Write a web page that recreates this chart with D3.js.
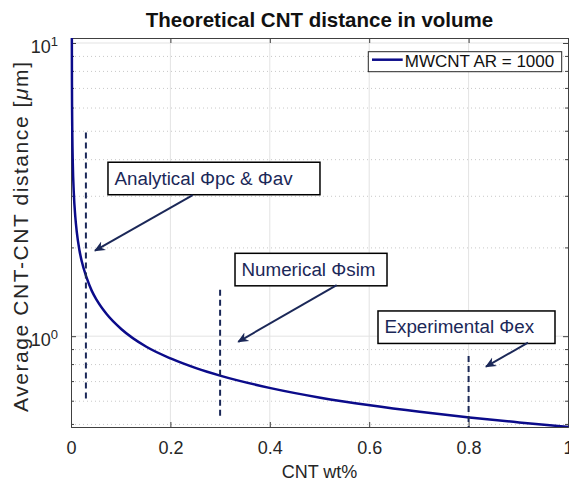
<!DOCTYPE html>
<html>
<head>
<meta charset="utf-8">
<script src="https://cdn.jsdelivr.net/npm/d3@7"></script>
<style>
  body { margin: 0; background: #fff; }
  svg { font-family: "Liberation Sans", Arial, Helvetica, sans-serif; }
</style>
</head>
<body>
<div class="chart"></div>
<script>
// CNT wt% vs average CNT-CNT distance
const wt   = [0.0001, 0.0003, 0.0006, 0.001, 0.002, 0.004, 0.007, 0.01, 0.015, 0.02, 0.03, 0.04, 0.05, 0.07,
              0.1, 0.15, 0.2, 0.25, 0.3, 0.4, 0.5, 0.6, 0.7, 0.8, 0.9, 1.0];
const dist = [10.4, 7.32, 5.81, 4.90, 3.89, 3.09, 2.56, 2.27, 1.98, 1.80, 1.58, 1.43, 1.33, 1.19,
              1.056, 0.92, 0.838, 0.778, 0.732, 0.665, 0.617, 0.581, 0.552, 0.528, 0.508, 0.49];

const xTicks = [0, 0.2, 0.4, 0.6, 0.8, 1];
const yMajor = [1, 10];
const yMinor = [0.5, 0.6, 0.7, 0.8, 0.9, 2, 3, 4, 5, 6, 7, 8, 9];

// dashed markers at the three wt% values
const markX    = [0.03, 0.3, 0.8];
const markLow  = [0.6, 0.52, 0.49];
const markHigh = [4.95, 1.44, 0.855];

const noteText = ['Analytical \u03A6pc & \u03A6av', 'Numerical \u03A6sim', 'Experimental \u03A6ex'];

const seriesName = 'MWCNT AR = 1000';

const margin = ({top: 38, right: 1, bottom: 54, left: 71});
const W = 569, H = 481;
const width = W - margin.left - margin.right;
const height = H - margin.top - margin.bottom;

const navy = '#0b0b8a';
const ink = '#1b2858';
const axisCol = '#404040';

const svg = d3.select('.chart')
    .append('svg')
    .attr('width', W)
    .attr('height', H);

const g = svg.append('g')
    .attr('transform', `translate(${margin.left},${margin.top})`);

const xScale = d3.scaleLinear()
    .domain([0, 1])
    .range([0, width]);

const yScale = d3.scaleLog()
    .domain([0.49, 10.4])
    .range([height, 0]);

// grid
g.append('g')
    .selectAll('line')
    .data(yMinor)
    .join('line')
    .attr('x1', 0).attr('x2', width)
    .attr('y1', d => yScale(d)).attr('y2', d => yScale(d))
    .attr('stroke', '#c8c8c8')
    .attr('stroke-dasharray', '1,3');

g.append('g')
    .selectAll('line')
    .data(yMajor)
    .join('line')
    .attr('x1', 0).attr('x2', width)
    .attr('y1', d => yScale(d)).attr('y2', d => yScale(d))
    .attr('stroke', '#e3e3e3');

g.append('g')
    .selectAll('line')
    .data(xTicks.slice(1, -1))
    .join('line')
    .attr('x1', d => xScale(d)).attr('x2', d => xScale(d))
    .attr('y1', 0).attr('y2', height)
    .attr('stroke', '#e3e3e3');

// axes (ticks point inward)
const xAxis = d3.axisBottom(xScale)
    .tickValues(xTicks)
    .tickFormat(d => d === 0 || d === 1 ? d3.format('d')(d) : d3.format('.1f')(d))
    .tickSize(-5)
    .tickPadding(14);

g.append('g')
    .attr('class', 'axis x-axis')
    .attr('transform', `translate(0,${height})`)
    .call(xAxis)
    .call(a => a.selectAll('text').attr('font-size', 18).attr('fill', '#262626'));

g.append('g')
    .call(d3.axisTop(xScale).tickValues(xTicks).tickSize(-5).tickFormat(''));

const yAxisL = g.append('g')
    .attr('class', 'axis y-axis')
    .call(d3.axisLeft(yScale).tickValues(yMajor).tickSize(-5).tickFormat(''));

g.append('g')
    .attr('transform', `translate(${width},0)`)
    .call(d3.axisRight(yScale).tickValues(yMajor).tickSize(-5).tickFormat(''));

// minor ticks both sides
[0, width].forEach(xx => {
    g.append('g')
        .selectAll('line')
        .data(yMinor)
        .join('line')
        .attr('x1', xx).attr('x2', xx === 0 ? 3 : width - 3)
        .attr('y1', d => yScale(d)).attr('y2', d => yScale(d))
        .attr('stroke', axisCol);
});

g.selectAll('.domain, .tick line').attr('stroke', axisCol);

// y tick labels 10^n
yAxisL.selectAll('.tick')
    .append('text')
    .attr('x', -13)
    .attr('y', 9.5)
    .attr('text-anchor', 'end')
    .attr('fill', '#262626')
    .attr('font-size', 18)
    .each(function(d) {
        const t = d3.select(this);
        t.append('tspan').text('10');
        t.append('tspan').attr('font-size', 13).attr('dy', -7).text(Math.round(Math.log10(d)));
    });

// curve (clip a little wider on the left so the stroke hugging the axis shows)
svg.append('clipPath').attr('id', 'clip')
    .append('rect').attr('x', -3).attr('width', width + 3).attr('height', height);

const line = d3.line()
    .curve(d3.curveMonotoneX)
    .x((d, i) => xScale(wt[i]))
    .y(d => yScale(d));

g.append('path')
    .datum(dist)
    .attr('clip-path', 'url(#clip)')
    .attr('d', line)
    .attr('fill', 'none')
    .attr('stroke', navy)
    .attr('stroke-width', 2.5)
    .attr('transform', 'translate(0.8,0)');

// dashed markers
g.append('g')
    .selectAll('line')
    .data(markX)
    .join('line')
    .attr('x1', d => xScale(d)).attr('x2', d => xScale(d))
    .attr('y1', (d, i) => yScale(markHigh[i]))
    .attr('y2', (d, i) => yScale(markLow[i]))
    .attr('stroke', ink)
    .attr('stroke-width', 2)
    .attr('stroke-dasharray', '6,4');

// annotation boxes and arrows (anchored in data coordinates)
const notes = [
    {box: [0.0744, 3.92], w: 212, tail: [0.2449, 3.03], head: [0.0483, 1.957]},
    {box: [0.330, 1.917], w: 152, tail: [0.5346, 1.494], head: [0.3366, 0.957]},
    {box: [0.6177, 1.219], w: 177, tail: [0.9195, 0.950], head: [0.835, 0.787]}
];

svg.append('defs').append('marker')
    .attr('id', 'head')
    .attr('viewBox', '0 0 10 10')
    .attr('refX', 9).attr('refY', 5)
    .attr('markerWidth', 11).attr('markerHeight', 11)
    .attr('markerUnits', 'userSpaceOnUse')
    .attr('orient', 'auto')
    .append('path')
    .attr('d', 'M0,0.5 L10,5 L0,9.5 L3,5 Z')
    .attr('fill', ink);

notes.forEach((n, i) => {
    const bx = xScale(n.box[0]), by = yScale(n.box[1]);
    g.append('rect')
        .attr('x', bx).attr('y', by)
        .attr('width', n.w).attr('height', 32.5)
        .attr('fill', 'white')
        .attr('stroke', 'black')
        .attr('stroke-width', 1.5);
    g.append('text')
        .attr('x', bx + 6.5).attr('y', by + 22.5)
        .attr('font-size', 18.8)
        .attr('fill', ink)
        .text(noteText[i]);
    g.append('line')
        .attr('x1', xScale(n.tail[0])).attr('y1', yScale(n.tail[1]))
        .attr('x2', xScale(n.head[0])).attr('y2', yScale(n.head[1]))
        .attr('stroke', ink)
        .attr('stroke-width', 2)
        .attr('marker-end', 'url(#head)');
});

// legend
const lg = g.append('g').attr('transform', `translate(${width - 199.7},13.7)`);
lg.append('rect')
    .attr('width', 193.4).attr('height', 20)
    .attr('fill', 'white')
    .attr('stroke', '#262626');
lg.append('line')
    .attr('x1', 3.7).attr('x2', 34.4)
    .attr('y1', 8).attr('y2', 8)
    .attr('stroke', navy)
    .attr('stroke-width', 2.5);
lg.append('text')
    .attr('x', 36.5).attr('y', 15)
    .attr('font-size', 17)
    .attr('fill', '#111')
    .text(seriesName);

// labels
svg.append('text')
    .attr('x', margin.left + width / 2)
    .attr('y', 27)
    .attr('text-anchor', 'middle')
    .attr('font-weight', 'bold')
    .attr('font-size', 20.5)
    .attr('fill', '#111')
    .text('Theoretical CNT distance in volume');

svg.append('text')
    .attr('x', margin.left + width / 2)
    .attr('y', 478)
    .attr('text-anchor', 'middle')
    .attr('font-size', 18)
    .attr('fill', '#262626')
    .text('CNT wt%');

const yl = svg.append('text')
    .attr('transform', `translate(28,237) rotate(-90)`)
    .attr('text-anchor', 'middle')
    .attr('font-size', 21)
    .attr('textLength', 350)
    .attr('lengthAdjust', 'spacing')
    .attr('fill', '#262626');
yl.append('tspan').text('Average CNT-CNT distance [');
yl.append('tspan').attr('font-style', 'italic').text('\u03BC');
yl.append('tspan').text('m]');
</script>
</body>
</html>
